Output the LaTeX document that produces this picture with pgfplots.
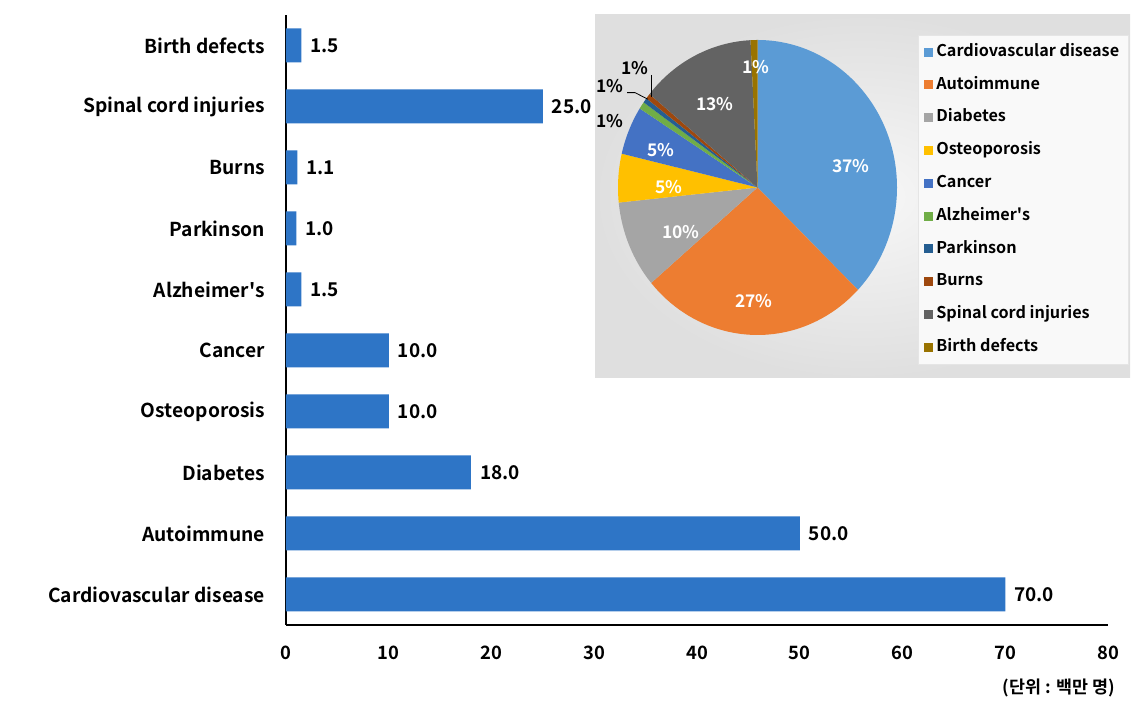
\documentclass[border=0pt]{standalone}
\usepackage{fontspec}
\setmainfont{Noto Sans CJK KR}[BoldFont={Noto Sans CJK KR Bold}]
\usepackage{pgfplots}
\pgfplotsset{compat=1.18}
\usepackage{pgfplotstable}

\definecolor{barblue}{HTML}{2E75C6}
\definecolor{c1}{HTML}{5B9BD5}
\definecolor{c2}{HTML}{ED7D31}
\definecolor{c3}{HTML}{A5A5A5}
\definecolor{c4}{HTML}{FFC000}
\definecolor{c5}{HTML}{4472C4}
\definecolor{c6}{HTML}{70AD47}
\definecolor{c7}{HTML}{255E91}
\definecolor{c8}{HTML}{9E480E}
\definecolor{c9}{HTML}{636363}
\definecolor{c10}{HTML}{997300}

\pgfplotstableread{
idx value
0 70
1 50
2 18
3 10
4 10
5 1.5
6 1.0
7 1.1
8 25
9 1.5
}\bardata

\def\pietotal{188.1}
\def\pieangle{90}
% compute start/end angle of each slice (outside any axis)
\newcommand\defslice[2]{%
  \pgfmathsetmacro\pb{\pieangle-#2/\pietotal*360}%
  \expandafter\xdef\csname sa#1\endcsname{\pieangle}%
  \expandafter\xdef\csname sb#1\endcsname{\pb}%
  \xdef\pieangle{\pb}}
\defslice{A}{70}\defslice{B}{50}\defslice{C}{18}\defslice{D}{10}\defslice{E}{10}
\defslice{F}{1.5}\defslice{G}{1.0}\defslice{H}{1.1}\defslice{I}{25}\defslice{J}{1.5}
\newcommand\drawslice[2]{%
  \fill[#2] (axis cs:0,0) -- ++(\csname sa#1\endcsname:69.75pt and 73.75pt)
    arc[start angle=\csname sa#1\endcsname, end angle=\csname sb#1\endcsname, x radius=69.75pt, y radius=73.75pt] -- cycle;}

\newcommand\lfont{\bfseries\fontsize{9.6}{11}\selectfont}
\begin{document}
\begin{tikzpicture}
\useasboundingbox (0,0) rectangle (570.5pt,355pt);
\begin{axis}[
  at={(143pt,42.5pt)}, anchor=south west,
  scale only axis, width=411pt, height=305pt,
  xbar, bar width=17pt,
  xmin=0, xmax=80, ymin=-0.5, ymax=9.5,
  xtick={0,10,...,80}, ytick={0,...,9},
  yticklabels={Cardiovascular disease, Autoimmune, Diabetes, Osteoporosis, Cancer, Alzheimer\textquotesingle s, Parkinson, Burns, Spinal cord injuries, Birth defects},
  axis x line*=bottom, axis y line*=left,
  axis line style={black, line width=0.6pt, -},
  major tick length=0pt,
  /pgf/number format/assume math mode=true,
  xticklabel style={font=\bfseries\fontsize{9.2}{10}\selectfont, yshift=-7pt},
  yticklabel style={font=\lfont, xshift=-7pt},
  nodes near coords={\pgfmathprintnumber[fixed,fixed zerofill,precision=1,assume math mode=true]{\pgfplotspointmeta}},
  nodes near coords style={font=\bfseries\fontsize{9.5}{10}\selectfont, anchor=west, black, xshift=1pt},
]
\addplot[fill=barblue, draw=none] table[x=value, y=idx] {\bardata};
\end{axis}

\shade[inner color=gray!6, outer color=gray!25] (297.5pt,166pt) rectangle (565pt,347.5pt);

\begin{axis}[
  at={(378.75pt,261.25pt)}, anchor=center,
  scale only axis, width=139.5pt, height=147.5pt,
  xmin=-1, xmax=1, ymin=-1, ymax=1, hide axis, clip=false,
  legend cell align=left,
  legend style={at={(1.075,1.017)}, anchor=north west, fill=gray!5, draw=gray!20,
    font=\bfseries\fontsize{8.1}{9}\selectfont, row sep=5.6pt, inner xsep=3pt, inner ysep=3pt,
    nodes={text height=6pt, text depth=1.8pt, inner sep=1.5pt}},
  legend image code/.code={\fill[#1] (0pt,-2.25pt) rectangle (4.5pt,2.25pt);},
]
\drawslice{A}{c1}
\drawslice{B}{c2}
\drawslice{C}{c3}
\drawslice{D}{c4}
\drawslice{E}{c5}
\drawslice{F}{c6}
\drawslice{G}{c7}
\drawslice{H}{c8}
\drawslice{I}{c9}
\drawslice{J}{c10}
\addlegendimage{fill=c1,draw=none}\addlegendentry{Cardiovascular disease}
\addlegendimage{fill=c2,draw=none}\addlegendentry{Autoimmune}
\addlegendimage{fill=c3,draw=none}\addlegendentry{Diabetes}
\addlegendimage{fill=c4,draw=none}\addlegendentry{Osteoporosis}
\addlegendimage{fill=c5,draw=none}\addlegendentry{Cancer}
\addlegendimage{fill=c6,draw=none}\addlegendentry{Alzheimer\textquotesingle s}
\addlegendimage{fill=c7,draw=none}\addlegendentry{Parkinson}
\addlegendimage{fill=c8,draw=none}\addlegendentry{Burns}
\addlegendimage{fill=c9,draw=none}\addlegendentry{Spinal cord injuries}
\addlegendimage{fill=c10,draw=none}\addlegendentry{Birth defects}
\begin{scope}[every node/.style={font=\bfseries\fontsize{8.7}{10}\selectfont}]
\node[white] at (axis cs:0.670,0.146) {37\%};
\node[white] at (axis cs:-0.025,-0.769) {27\%};
\node[white] at (axis cs:-0.548,-0.302) {10\%};
\node[white] at (axis cs:-0.634,0.003) {5\%};
\node[white] at (axis cs:-0.692,0.254) {5\%};
\node[white] at (axis cs:-0.305,0.566) {13\%};
\node[white] at (axis cs:-0.011,0.817) {1\%};
\node[black] at (axis cs:-0.878,0.810) {1\%};
\node[black] at (axis cs:-1.057,0.688) {1\%};
\node[black] at (axis cs:-1.057,0.451) {1\%};
\end{scope}
\draw[black, line width=0.4pt] (axis cs:-0.758,0.763) -- (axis cs:-0.758,0.614);
\draw[black, line width=0.4pt] (axis cs:-0.935,0.643) -- (axis cs:-0.878,0.643) -- (axis cs:-0.785,0.598);
\end{axis}

\node[anchor=east, font=\bfseries\fontsize{8.7}{10}\selectfont] at (561pt,11pt) {(단위 : 백만 명)};
\end{tikzpicture}
\end{document}
